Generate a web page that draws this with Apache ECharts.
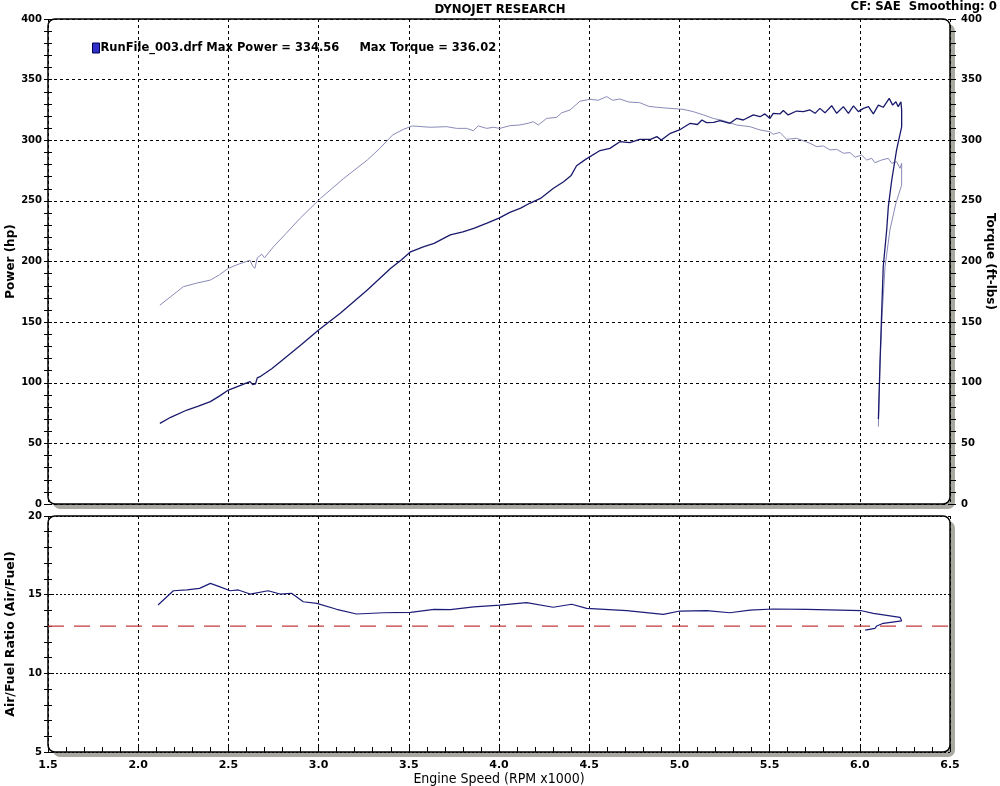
<!DOCTYPE html>
<html>
<head>
<meta charset="utf-8">
<script src="https://cdn.jsdelivr.net/npm/echarts@6/dist/echarts.min.js"></script>
<style>html,body{margin:0;padding:0;background:#fff}#c{width:1000px;height:786px}</style>
</head>
<body>
<div id="c"></div>
<script>
// ---------- data ----------
const chartTitle = 'DYNOJET RESEARCH';
const cornerNote = 'CF: SAE  Smoothing: 0';
const legendLabel = 'RunFile_003.drf Max Power = 334.56     Max Torque = 336.02';
const xTitle = 'Engine Speed (RPM x1000)';
const powerTitle = 'Power (hp)';
const torqueTitle = 'Torque (ft-lbs)';
const afrTitle = 'Air/Fuel Ratio (Air/Fuel)';

const powerRpm = [2.12,2.18,2.27,2.33,2.40,2.45,2.50,2.56,2.62,2.635,2.65,2.66,2.675,2.74,2.80,2.90,3.00,3.12,3.27,3.40,3.46,3.51,3.58,3.64,3.73,3.80,3.86,3.93,4.00,4.06,4.12,4.17,4.23,4.30,4.36,4.40,4.43,4.48,4.56,4.615,4.67,4.725,4.78,4.84,4.875,4.90,4.95,5.00,5.06,5.10,5.125,5.15,5.19,5.225,5.28,5.317,5.354,5.41,5.447,5.474,5.502,5.52,5.557,5.576,5.603,5.65,5.687,5.724,5.752,5.779,5.807,5.844,5.872,5.909,5.937,5.965,5.992,6.02,6.048,6.075,6.103,6.13,6.163,6.182,6.20,6.213,6.228,6.232,6.232,6.204,6.177,6.158,6.149,6.13,6.121,6.112,6.105,6.103];
const power = [66.5,71.5,77.5,80.5,84.4,89,94,97.5,100.9,98.5,99,104,105,111.5,118.8,131,143.5,157.3,176.5,194.4,201.5,208,212,215,221.9,224.5,227.4,231.5,235.8,240.5,244,248,252,260.2,266,271,279,284.2,291.5,293.3,298.8,298,300.8,300.8,303,300.2,305.7,308.5,314,313,316.7,314.5,314.8,316.2,314,318,316.7,320.9,319.4,321.7,318,322.2,321.7,324.5,320.9,324.1,323.6,325,322.2,326.3,322.6,328.5,322.2,327.7,322.2,328.3,323.6,326.3,327.7,321.7,329,327.2,334.5,329,331.8,327.7,331.8,325,311,292,267,245,226,195.7,157,116,80,70];

const torqueRpm = [2.12,2.18,2.25,2.32,2.40,2.45,2.50,2.56,2.62,2.635,2.647,2.66,2.685,2.70,2.75,2.82,2.90,3.01,3.14,3.27,3.34,3.41,3.47,3.52,3.62,3.71,3.765,3.82,3.858,3.885,3.932,3.968,4.005,4.06,4.115,4.162,4.19,4.218,4.264,4.32,4.347,4.394,4.449,4.504,4.55,4.597,4.63,4.67,4.72,4.78,4.83,4.874,4.948,5.02,5.077,5.133,5.188,5.243,5.317,5.391,5.447,5.502,5.52,5.557,5.594,5.65,5.687,5.724,5.761,5.798,5.835,5.872,5.909,5.946,5.974,6.01,6.038,6.066,6.084,6.121,6.158,6.177,6.204,6.223,6.232,6.232,6.2,6.167,6.14,6.124,6.112,6.103];
const torque = [164,171,179.2,182,184.7,189,194.4,198,201,196,194.4,203,206,203,212.2,223.2,236,252,268.6,283.7,293.4,304.3,309,311.8,310.7,311.2,309.8,309.8,307.9,311.8,309.8,310.7,309.8,312,312.6,314,315.3,312.6,318,318.9,322.6,325,332.2,333.8,333,336,333,334,331.5,331,328,327.2,326.3,325.5,323.6,320.9,318,316.2,312.6,311.2,308.5,307,304.9,306.5,300.8,301.6,299.6,297.5,294.7,295.3,292,292.5,289.3,289.8,286,287.8,283.7,285.1,281.5,283.7,285.1,281,282.3,276.9,281,263,248,226,195.7,157,116,63.8];

const afrRpm = [2.11,2.195,2.27,2.34,2.40,2.45,2.51,2.555,2.62,2.72,2.786,2.85,2.915,2.99,3.10,3.21,3.36,3.51,3.64,3.73,3.86,4.005,4.153,4.30,4.403,4.486,4.708,4.911,5.003,5.151,5.28,5.391,5.52,5.706,6.01,6.075,6.223,6.232,6.13,6.094,6.084,6.03];
const afr = [14.34,15.25,15.30,15.40,15.72,15.51,15.25,15.30,15.04,15.25,15.04,15.09,14.55,14.45,14.07,13.77,13.85,13.88,14.07,14.05,14.23,14.34,14.49,14.20,14.39,14.13,13.98,13.75,13.96,13.98,13.85,14.02,14.09,14.07,13.98,13.81,13.56,13.34,13.18,13.01,12.86,12.75];
const afrTarget = 13.0;
const rpmRange = [1.5, 6.5];

// ---------- layout ----------
const L = 48, R = 950, T1 = 19, B1 = 504, T2 = 516, B2 = 752, W = 1000, H = 786;
const zip = (xs, ys) => xs.map((x, i) => [x, ys[i]]);
const narrow = "'Liberation Sans Narrow', 'DejaVu Sans Condensed', 'Liberation Sans', sans-serif";
const wide = "'DejaVu Sans', Verdana, sans-serif";
const dashGrid = { show: true, lineStyle: { color: '#000', type: [3, 3], width: 1 } };
const tickStyle = { color: '#000', width: 1 };
const labelStyle = { fontFamily: wide, fontSize: 10, fontWeight: 'bold', color: '#000' };
const nameStyle = { fontFamily: wide, fontSize: 12, fontWeight: 'bold', color: '#000' };

const chart = echarts.init(document.getElementById('c'), null, { renderer: 'canvas' });

function panel(top, bottom) {
  return [
    { type: 'rect', z: -20, shape: { x: L + 5, y: top + 5, width: R - L, height: bottom - top, r: 7 }, style: { fill: '#a9a9a1' } },
    { type: 'rect', z: -10, shape: { x: L, y: top, width: R - L, height: bottom - top, r: 7 }, style: { fill: '#fff', stroke: '#000', lineWidth: 1.5 } }
  ];
}

chart.setOption({
  animation: false,
  backgroundColor: '#fff',
  title: [
    { text: chartTitle, left: 'center', top: 3, padding: 0, textStyle: { fontFamily: narrow, fontSize: 13, fontWeight: 'bold', color: '#000' } },
    { text: cornerNote, right: 3, top: 0, padding: 0, textStyle: { fontFamily: narrow, fontSize: 13, fontWeight: 'bold', color: '#000' } }
  ],
  legend: {
    data: [{ name: 'Power', icon: 'rect', itemStyle: { color: '#3030c8', borderColor: '#000050', borderWidth: 1 } }],
    left: 92, top: 42, padding: 0, itemWidth: 7, itemHeight: 10,
    selectedMode: false,
    formatter: () => legendLabel,
    textStyle: { fontFamily: wide, fontSize: 11.5, fontWeight: 'bold', color: '#000', padding: [0, 0, 0, -4] }
  },
  graphic: [].concat(panel(T1, B1), panel(T2, B2)),
  grid: [
    { left: L, right: W - R, top: T1, bottom: H - B1, containLabel: false, outerBoundsMode: 'none' },
    { left: L, right: W - R, top: T2, bottom: H - B2, containLabel: false, outerBoundsMode: 'none' }
  ],
  xAxis: [
    { type: 'value', gridIndex: 0, min: rpmRange[0], max: rpmRange[1], interval: 0.5,
      axisLine: { show: false }, axisTick: { show: false }, axisLabel: { show: false },
      splitLine: dashGrid },
    { type: 'value', gridIndex: 1, min: rpmRange[0], max: rpmRange[1], interval: 0.5,
      name: xTitle, nameLocation: 'middle', nameGap: 20, nameMoveOverlap: false,
      nameTextStyle: { fontFamily: narrow, fontSize: 14, color: '#000' },
      axisLine: { show: false },
      axisTick: { show: true, inside: true, length: 5, lineStyle: tickStyle },
      minorTick: { show: true, splitNumber: 5, length: 5, lineStyle: tickStyle },
      axisLabel: Object.assign({ margin: 8, formatter: v => v.toFixed(1) }, labelStyle, { fontSize: 11 }),
      splitLine: dashGrid }
  ],
  yAxis: [
    { type: 'value', gridIndex: 0, min: 0, max: 400, interval: 50, position: 'left', offset: -4,
      name: powerTitle, nameLocation: 'middle', nameGap: 35, nameRotate: 90, nameMoveOverlap: false, nameTextStyle: nameStyle,
      axisLine: { show: false },
      axisTick: { show: true, length: 8, lineStyle: tickStyle },
      minorTick: { show: true, splitNumber: 5, length: 8, lineStyle: tickStyle },
      axisLabel: Object.assign({ margin: 10 }, labelStyle),
      splitLine: dashGrid },
    { type: 'value', gridIndex: 0, min: 0, max: 400, interval: 50, position: 'right',
      name: torqueTitle, nameLocation: 'middle', nameGap: 34, nameRotate: -90, nameMoveOverlap: false, nameTextStyle: nameStyle,
      axisLine: { show: false },
      axisTick: { show: true, length: 6, lineStyle: tickStyle },
      minorTick: { show: true, splitNumber: 5, length: 6, lineStyle: tickStyle },
      axisLabel: Object.assign({ margin: 11 }, labelStyle),
      splitLine: { show: false } },
    { type: 'value', gridIndex: 1, min: 5, max: 20, interval: 5, position: 'left', offset: -4,
      name: afrTitle, nameLocation: 'middle', nameGap: 35, nameRotate: 90, nameMoveOverlap: false,
      nameTextStyle: Object.assign({}, nameStyle, { fontSize: 12.5 }),
      axisLine: { show: false },
      axisTick: { show: true, length: 8, lineStyle: tickStyle },
      minorTick: { show: true, splitNumber: 5, length: 8, lineStyle: tickStyle },
      axisLabel: Object.assign({ margin: 10 }, labelStyle),
      splitLine: { show: true, lineStyle: { color: '#000', type: [2, 2], width: 1 } } }
  ],
  series: [
    { name: 'Torque', type: 'line', xAxisIndex: 0, yAxisIndex: 1, data: zip(torqueRpm, torque),
      showSymbol: false, symbol: 'none', lineStyle: { color: '#8a8ab9', width: 1 }, itemStyle: { color: '#8a8ab9' }, z: 3 },
    { name: 'Power', type: 'line', xAxisIndex: 0, yAxisIndex: 0, data: zip(powerRpm, power),
      showSymbol: false, symbol: 'none', lineStyle: { color: '#1a1a6c', width: 1.3 }, itemStyle: { color: '#1a1a6c' }, z: 4 },
    { name: 'AFR target', type: 'line', xAxisIndex: 1, yAxisIndex: 2,
      data: rpmRange.map(r => [r, afrTarget]),
      showSymbol: false, symbol: 'none', silent: true,
      lineStyle: { color: '#c43c3c', type: [16, 10], width: 1.2 }, z: 3 },
    { name: 'AFR', type: 'line', xAxisIndex: 1, yAxisIndex: 2, data: zip(afrRpm, afr),
      showSymbol: false, symbol: 'none', lineStyle: { color: '#1c1c7a', width: 1.2 }, z: 4 }
  ]
});
</script>
</body>
</html>
